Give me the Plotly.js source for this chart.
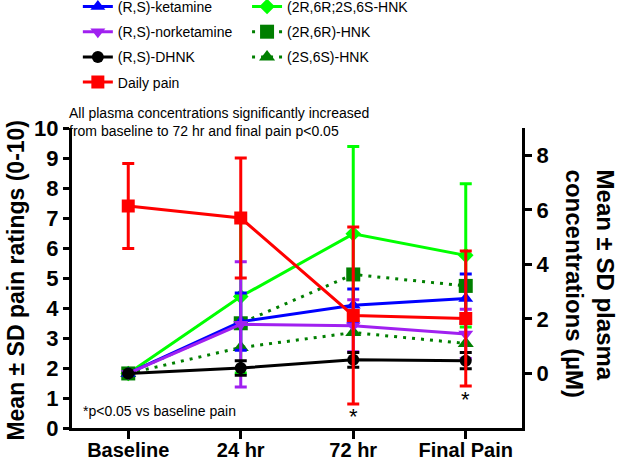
<!DOCTYPE html>
<html>
<head>
<meta charset="utf-8">
<script src="https://cdn.plot.ly/plotly-3.0.1.min.js"></script>
<style>html,body{margin:0;padding:0;background:#fff;}#chart{width:620px;height:460px;}</style>
</head>
<body>
<div id="chart"></div>
<script>
// ---- data ----
const categories = ['Baseline', '24 hr', '72 hr', 'Final Pain'];

const painMean = [7.4, 7.0, 3.75, 3.65];
const painSD   = [1.42, 2.0, 2.95, 2.25];

const ketamineMean = [0, 1.9, 2.5, 2.75];
const ketamineSD   = [null, 1.05, 0.6, 0.9];

const norketamineMean = [0, 1.8, 1.75, 1.45];
const norketamineSD   = [null, 2.3, 0.95, 0.9];

const dhnkMean = [0, 0.2, 0.5, 0.47];
const dhnkSD   = [null, 0.27, 0.27, 0.3];

const hnkMixMean = [0, 2.82, 5.12, 4.33];
const hnkMixSD   = [null, 2.8, 3.2, 2.63];

const hnk2R6RMean = [0, 1.84, 3.63, 3.21];
const hnk2S6SMean = [0, 0.95, 1.5, 1.1];

const legendNames = ['(R,S)-ketamine', '(R,S)-norketamine', '(R,S)-DHNK', 'Daily pain',
                     '(2R,6R;2S,6S-HNK', '(2R,6R)-HNK', '(2S,6S)-HNK'];
const xTickLabels = categories;
const leftTitle = 'Mean \u00b1 SD pain ratings (0-10)';
const rightTitle = 'Mean \u00b1 SD plasma<br>concentrations (\u00b5M)';
const noteLine1 = 'All plasma concentrations significantly increased';
const noteLine2 = 'from baseline to 72 hr and final pain p<0.05';
const noteBottom = '*p<0.05 vs baseline pain';
const starCats = ['72 hr', 'Final Pain'];
const starY = [0.4, 0.95];

// ---- styling ----
const SANS = "'Liberation Sans', Arial, Helvetica, sans-serif";
const NOTE_SIZE = 14;

function errBar(arr, color) {
  return {type: 'data', array: arr, visible: true, color: color, thickness: 3, width: 6};
}

const traces = [
  {name: legendNames[4], x: categories, y: hnkMixMean, yaxis: 'y', type: 'scatter', mode: 'lines+markers',
   line: {color: '#00FF00', width: 3}, marker: {symbol: 'diamond', size: 12, color: '#00FF00'},
   error_y: errBar(hnkMixSD, '#00FF00'), legend: 'legend2'},
  {name: legendNames[5], x: categories, y: hnk2R6RMean, yaxis: 'y', type: 'scatter', mode: 'lines+markers',
   line: {color: '#007F00', width: 3, dash: '3px,6px'}, marker: {symbol: 'square', size: 14, color: '#007F00'},
   legend: 'legend2'},
  {name: legendNames[6], x: categories, y: hnk2S6SMean, yaxis: 'y', type: 'scatter', mode: 'lines+markers',
   line: {color: '#007F00', width: 3, dash: '3px,6px'}, marker: {symbol: 'triangle-up', size: 14, color: '#007F00'},
   legend: 'legend2'},
  {name: legendNames[0], x: categories, y: ketamineMean, yaxis: 'y', type: 'scatter', mode: 'lines+markers',
   line: {color: '#0000FF', width: 3}, marker: {symbol: 'triangle-up', size: 13, color: '#0000FF'},
   error_y: errBar(ketamineSD, '#0000FF'), legend: 'legend'},
  {name: legendNames[1], x: categories, y: norketamineMean, yaxis: 'y', type: 'scatter', mode: 'lines+markers',
   line: {color: '#A020F0', width: 3}, marker: {symbol: 'triangle-down', size: 13, color: '#A020F0'},
   error_y: errBar(norketamineSD, '#A020F0'), legend: 'legend'},
  {name: legendNames[2], x: categories, y: dhnkMean, yaxis: 'y', type: 'scatter', mode: 'lines+markers',
   line: {color: '#000000', width: 3}, marker: {symbol: 'circle', size: 12, color: '#000000'},
   error_y: errBar(dhnkSD, '#000000'), legend: 'legend'},
  {name: legendNames[3], x: categories, y: painMean, yaxis: 'y2', type: 'scatter', mode: 'lines+markers',
   line: {color: '#FF0000', width: 3}, marker: {symbol: 'square', size: 13, color: '#FF0000'},
   error_y: errBar(painSD, '#FF0000'), legend: 'legend'}
];

// legend 1 lists ketamine, norketamine, DHNK, Daily pain; legend 2 the HNKs
traces.forEach((t) => {
  t.legendrank = legendNames.indexOf(t.name) + 1;
  t.legendgroup = t.name;
});

const annotations = [
  {text: noteLine1, xref: 'paper', yref: 'paper', x: -0.012, y: 1.05, xanchor: 'left', yanchor: 'middle',
   showarrow: false, font: {family: SANS, size: NOTE_SIZE, color: '#000'}},
  {text: noteLine2, xref: 'paper', yref: 'paper', x: -0.012, y: 0.99, xanchor: 'left', yanchor: 'middle',
   showarrow: false, font: {family: SANS, size: NOTE_SIZE, color: '#000'}},
  {text: noteBottom, xref: 'paper', yref: 'paper', x: 0.02, y: 0.057, xanchor: 'left', yanchor: 'middle',
   showarrow: false, font: {family: SANS, size: NOTE_SIZE, color: '#000'}},
  {text: leftTitle, xref: 'paper', yref: 'paper', x: -0.124, y: 0.492, xanchor: 'center', yanchor: 'middle',
   textangle: -90, showarrow: false, font: {family: SANS, size: 23, color: '#000', weight: 'bold'}},
  {text: rightTitle, xref: 'paper', yref: 'paper', x: 1.152, y: 0.48, xanchor: 'center', yanchor: 'middle',
   textangle: 90, align: 'left', showarrow: false, font: {family: SANS, size: 24, color: '#000', weight: 'bold'}}
];
starCats.forEach((c, i) => annotations.push({
  text: '*', xref: 'x', yref: 'y2', x: c, y: starY[i], xanchor: 'center', yanchor: 'middle',
  showarrow: false, font: {family: SANS, size: 22, color: '#000'}
}));

const layout = {
  width: 620, height: 460,
  margin: {l: 72, r: 98, t: 128, b: 32, autoexpand: false},
  paper_bgcolor: '#fff', plot_bgcolor: '#fff',
  xaxis: {type: 'category', categoryarray: categories, tickvals: categories, ticktext: xTickLabels,
          range: [-0.5, 3.5], showline: true, linewidth: 3, linecolor: '#000',
          ticks: 'outside', ticklen: 8, tickwidth: 3, tickcolor: '#000', ticklabelstandoff: -6,
          showgrid: false, zeroline: false, automargin: false,
          tickfont: {family: SANS, size: 20, color: '#000', weight: 'bold'}},
  yaxis: {side: 'right', range: [-2, 9], tickvals: [0, 2, 4, 6, 8], showline: true, linewidth: 3, linecolor: '#000',
          ticks: 'outside', ticklen: 7, tickwidth: 3, tickcolor: '#000', showgrid: false, zeroline: false,
          automargin: false, tickfont: {family: SANS, size: 22, color: '#000', weight: 'bold'}},
  yaxis2: {overlaying: 'y', side: 'left', range: [0, 10], dtick: 1, showline: true, linewidth: 3, linecolor: '#000',
           ticks: 'outside', ticklen: 6, tickwidth: 3, tickcolor: '#000', showgrid: false, zeroline: false,
           automargin: false, tickfont: {family: SANS, size: 22, color: '#000', weight: 'bold'}},
  legend: {x: 0.013, y: 1.457, xanchor: 'left', yanchor: 'top', bgcolor: 'rgba(0,0,0,0)',
           font: {family: SANS, size: 14, color: '#000'}, tracegroupgap: 4, itemwidth: 30},
  legend2: {x: 0.389, y: 1.457, xanchor: 'left', yanchor: 'top', bgcolor: 'rgba(0,0,0,0)',
           font: {family: SANS, size: 14, color: '#000'}, tracegroupgap: 4, itemwidth: 30},
  annotations: annotations,
  showlegend: true
};

Plotly.newPlot('chart', traces, layout, {displayModeBar: false, staticPlot: true});
</script>
</body>
</html>
